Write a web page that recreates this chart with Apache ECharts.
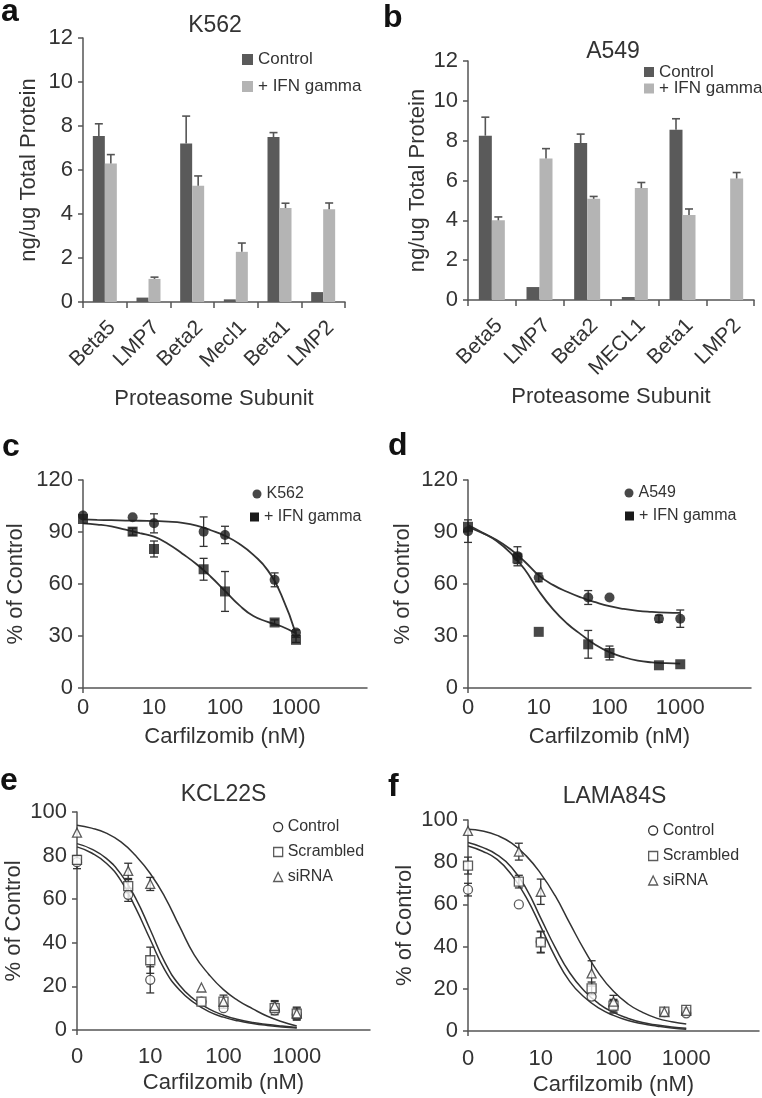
<!DOCTYPE html>
<html><head><meta charset="utf-8">
<script src="https://cdn.jsdelivr.net/npm/echarts@6/dist/echarts.min.js"></script>
<style>html,body{margin:0;padding:0;background:#fff}#c{width:762px;height:1098px}</style>
</head><body><div id="c"></div>
<script>
// ---------- data ----------
const subunitsA = ['Beta5','LMP7','Beta2','Mecl1','Beta1','LMP2'];
const k562Control = [7.55, 0.2, 7.2, 0.12, 7.5, 0.45];
const k562ControlErr = [0.55, 0, 1.25, 0, 0.2, 0];
const k562Ifn = [6.3, 1.05, 5.28, 2.28, 4.27, 4.22];
const k562IfnErr = [0.4, 0.08, 0.45, 0.4, 0.22, 0.28];

const subunitsB = ['Beta5','LMP7','Beta2','MECL1','Beta1','LMP2'];
const a549Control = [8.25, 0.65, 7.88, 0.15, 8.55, 0];
const a549ControlErr = [0.93, 0, 0.45, 0, 0.55, 0];
const a549Ifn = [4.0, 7.1, 5.08, 5.62, 4.27, 6.1];
const a549IfnErr = [0.17, 0.5, 0.12, 0.28, 0.3, 0.3];

const doses = [0, 5, 10, 50, 100, 500, 1000]; // nM
const doseLabels = {1: '0', 10: '10', 100: '100', 1000: '1000'};
// concentrations at which the fitted curves were read (first one = axis origin, 0 nM)
const fitDoses = [1, 1.585, 2.512, 3.981, 6.31, 10, 15.85, 25.12, 39.81, 63.1, 100, 158.5, 251.2, 398.1, 631, 1000];

// panel c
const k562Pct = [99.5, 98.5, 95, 90.2, 88.3, 62.4, 32];
const k562PctErr = [0, 0, 5.5, 8.5, 5, 4, 1.5];
const k562IfnPct = [97.5, 90.2, 80.2, 68.5, 55.7, 37.8, 27.8];
const k562IfnPctErr = [0, 2, 4.6, 6.3, 11.5, 1.5, 1.5];
const k562Fit = [97.3, 97.0, 96.8, 96.6, 96.5, 96.3, 96.0, 95.3, 93.7, 91.0, 87.8, 83.2, 76.8, 68, 53, 31];
const k562IfnFit = [95, 94.3, 93.2, 91.3, 89.3, 87.3, 83.1, 77.5, 71.4, 64.2, 56, 47.8, 41.5, 38.2, 35.5, 31.5];

// panel d
const a549Pct = [90.5, 76, 63.8, 52.2, 52.2, 40, 40];
const a549PctErr = [6.5, 5.5, 2.5, 4, 0, 2, 5];
const a549IfnPct = [93, 74.8, 32.4, 25.2, 20.2, 13.1, 13.7];
const a549IfnPctErr = [0, 3, 0, 8, 4, 0, 0];
const a549Fit = [93, 89.5, 85.5, 80, 73, 65, 59.5, 55.5, 52.2, 49.5, 47.2, 45.6, 44.5, 43.9, 43.5, 43.3];
const a549IfnFit = [94, 89.7, 85, 78, 68.5, 56, 45.5, 37.2, 30.8, 25, 20.7, 17.8, 15.8, 14.8, 14.3, 14.1];

// panel e (KCL22S)
const kclControl = [77, 62, 23, 13, 10, 9, 7];
const kclControlErr = [3, 3, 6, 0, 0, 0, 2];
const kclScrambled = [78, 66, 32, 13, 13, 10, 7.5];
const kclScrambledErr = [2, 3, 6, 0, 3, 3, 3];
const kclSirna = [90.5, 73, 67, 19.5, 13, 11, 7.6];
const kclSirnaErr = [0, 3.5, 3, 0, 0, 2.5, 2.5];
const kclSirnaFit = [93.9, 92.6, 90.3, 86.3, 80, 71.8, 61, 47.5, 34.5, 25.5, 18.5, 13.5, 9.7, 6.3, 3.8, 1.8];
const kclScrambledFit = [85.5, 83, 78.7, 71.5, 60.5, 46, 31, 20.5, 14, 9.7, 6.8, 4.8, 3.4, 2.5, 1.8, 1.2];
const kclControlFit = [84, 81.2, 76.5, 68.5, 56, 41.5, 27.5, 18.3, 12.5, 8.4, 5.9, 4.2, 3, 2.1, 1.4, 0.9];

// panel f (LAMA84S)
const lamaControl = [67, 60, 42.3, 16.3, 11.5, 9, 8.4];
const lamaControlErr = [3, 0, 5, 0, 3, 0, 0];
const lamaScrambled = [78.4, 70.8, 42, 20.2, 12, 9.2, 10];
const lamaScrambledErr = [4, 3, 5, 3, 3, 0, 1];
const lamaSirna = [94.8, 85, 66, 27.3, 13.9, 9, 9.5];
const lamaSirnaErr = [0, 4, 6, 6, 3, 0, 0];
const lamaSirnaFit = [95.6, 94.8, 92.7, 89, 83, 74.6, 64, 51, 38.3, 27.2, 18.8, 12.8, 8.8, 6, 4.4, 3.3];
const lamaScrambledFit = [89.3, 87, 83.5, 77.5, 67.5, 53.5, 39.5, 27.5, 19, 12.9, 8.8, 6, 4, 2.8, 1.9, 1.3];
const lamaControlFit = [87.7, 85.2, 81.3, 74, 63.3, 49.5, 35, 23.4, 16, 10.8, 7.4, 5, 3.4, 2.3, 1.4, 0.8];

// ---------- styling / helpers ----------
const FONT = '"Liberation Sans", Arial, Helvetica, sans-serif';
const AX = '#555', TXT = '#333';
const DARK = '#5a5a5a', LIGHT = '#b4b4b4';
const pos = d => d === 0 ? 1 : d; // 0 nM is drawn at the axis origin

const axLine = {show: true, onZero: false, lineStyle: {color: AX, width: 1.5}};
const tickSt = {color: AX, width: 1.5};

function barX(gi, cats) {
  return {gridIndex: gi, type: 'category', data: cats,
    axisLine: axLine, axisTick: {show: true, length: 6, lineStyle: tickSt},
    axisLabel: {rotate: 45, interval: 0, fontSize: 21, color: TXT, fontFamily: FONT, margin: 15, verticalAlign: 'top'},
    name: 'Proteasome Subunit', nameLocation: 'middle', nameGap: 86,
    nameTextStyle: {fontSize: 22, color: TXT, fontFamily: FONT}};
}
function valY(gi, max, interval, name, gap) {
  return {gridIndex: gi, type: 'value', min: 0, max, interval,
    axisLine: axLine, axisTick: {show: true, length: 5, lineStyle: tickSt},
    splitLine: {show: false},
    axisLabel: {fontSize: 22, color: TXT, fontFamily: FONT, margin: 10},
    name, nameLocation: 'middle', nameGap: gap,
    nameTextStyle: {fontSize: 22, color: TXT, fontFamily: FONT}};
}
function doseX(gi, labelMargin, nameGap) {
  return {gridIndex: gi, type: 'log', logBase: 10, min: 1, max: 10000,
    axisLine: axLine, axisTick: {show: true, length: 5, lineStyle: tickSt, customValues: [1]},
    splitLine: {show: false},
    axisLabel: {fontSize: 22, color: TXT, fontFamily: FONT, margin: labelMargin,
      formatter: v => doseLabels[Math.round(v)] || ''},
    name: 'Carfilzomib (nM)', nameLocation: 'middle', nameGap,
    nameTextStyle: {fontSize: 22, color: TXT, fontFamily: FONT}};
}
function bars(ai, name, vals, color, bw) {
  return {type: 'bar', name, xAxisIndex: ai, yAxisIndex: ai, data: vals,
    barWidth: bw, barGap: '0%', itemStyle: {color}, z: 2, animation: false};
}
function barErr(ai, vals, errs, side, bw) {
  return {type: 'custom', xAxisIndex: ai, yAxisIndex: ai, z: 3, animation: false,
    data: vals.map((v, i) => [i, v, v + errs[i]]).filter((_, i) => errs[i] > 0),
    encode: {x: 0, y: [1, 2]},
    renderItem: (p, api) => {
      const b = api.coord([api.value(0), api.value(1)]);
      const t = api.coord([api.value(0), api.value(2)]);
      const x = b[0] + side * bw / 2;
      const st = {stroke: '#555', lineWidth: 1.6};
      return {type: 'group', children: [
        {type: 'line', shape: {x1: x, y1: b[1], x2: x, y2: t[1]}, style: st},
        {type: 'line', shape: {x1: x - 4, y1: t[1], x2: x + 4, y2: t[1]}, style: st}]};
    }};
}
function ptErr(ai, vals, errs) {
  return {type: 'custom', xAxisIndex: ai, yAxisIndex: ai, z: 3, animation: false,
    data: doses.map((d, i) => [pos(d), vals[i] - errs[i], vals[i] + errs[i]]).filter((_, i) => errs[i] > 0),
    encode: {x: 0, y: [1, 2]},
    renderItem: (p, api) => {
      const a = api.coord([api.value(0), api.value(1)]);
      const b = api.coord([api.value(0), api.value(2)]);
      const st = {stroke: '#333', lineWidth: 1.3};
      return {type: 'group', children: [
        {type: 'line', shape: {x1: a[0], y1: a[1], x2: b[0], y2: b[1]}, style: st},
        {type: 'line', shape: {x1: a[0] - 4, y1: a[1], x2: a[0] + 4, y2: a[1]}, style: st},
        {type: 'line', shape: {x1: b[0] - 4, y1: b[1], x2: b[0] + 4, y2: b[1]}, style: st}]};
    }};
}
function pts(ai, name, vals, symbol, hollow) {
  return {type: 'scatter', name, xAxisIndex: ai, yAxisIndex: ai, z: 4, animation: false,
    symbol, symbolSize: hollow ? 9 : 10,
    itemStyle: hollow ? {color: '#fff', borderColor: '#333', borderWidth: 1.3} : {color: '#1a1a1a'},
    data: doses.map((d, i) => [pos(d), vals[i]])};
}
function fit(ai, vals, w) {
  return {type: 'line', xAxisIndex: ai, yAxisIndex: ai,
    data: fitDoses.map((d, i) => [d, vals[i]]), smooth: 0.5,
    showSymbol: false, symbol: 'none', z: 2, animation: false,
    lineStyle: {color: '#333', width: w}};
}
function leg(name, left, cy, icon, size, style, fontSize) {
  return {left, top: cy - fontSize / 2 - 1, padding: 0, itemGap: 0, selectedMode: false,
    itemWidth: size, itemHeight: size,
    data: [{name, icon, itemStyle: style}],
    textStyle: {fontSize, color: TXT, fontFamily: FONT}};
}
function ttl(text, left, top, size, bold, align) {
  return {text, left, top, padding: 0, textAlign: align || 'left',
    textStyle: {fontSize: size, fontWeight: bold ? 'bold' : 'normal', color: bold ? '#111' : TXT, fontFamily: FONT}};
}

const hollow = {color: '#fff', borderColor: '#333', borderWidth: 1.3};
const solid = {color: '#1a1a1a'};

const option = {
  backgroundColor: '#fff',
  animation: false,
  textStyle: {fontFamily: FONT},
  title: [
    ttl('a', 1, -4, 32, true), ttl('b', 383, 2, 32, true),
    ttl('c', 2, 431, 32, true), ttl('d', 388, 430, 32, true),
    ttl('e', 0, 765, 32, true), ttl('f', 388, 771, 32, true),
    ttl('K562', 215, 14.5, 23, false, 'center'),
    ttl('A549', 613, 40.5, 23, false, 'center'),
    ttl('KCL22S', 223.5, 783.5, 23, false, 'center'),
    ttl('LAMA84S', 614.5, 785.5, 23, false, 'center')
  ],
  legend: [
    leg('Control', 242, 60.5, 'rect', 11, {color: DARK}, 17),
    leg('+ IFN gamma', 242, 87.5, 'rect', 11, {color: LIGHT}, 17),
    leg('Control', 644, 73, 'rect', 10, {color: DARK}, 17),
    leg('+ IFN gamma', 644, 89.5, 'rect', 10, {color: LIGHT}, 17),
    leg('K562', 252.5, 495, 'circle', 9, solid, 16),
    leg('+ IFN gamma', 250, 518, 'rect', 9, solid, 16),
    leg('A549', 624.5, 494, 'circle', 9, solid, 16),
    leg('+ IFN gamma', 625, 517, 'rect', 9, solid, 16),
    leg('Control', 273, 828, 'circle', 9, hollow, 16),
    leg('Scrambled', 273, 853, 'rect', 9, hollow, 16),
    leg('siRNA', 273, 878, 'triangle', 9, hollow, 16),
    leg('Control', 648, 831.5, 'circle', 9, hollow, 16),
    leg('Scrambled', 648, 857, 'rect', 9, hollow, 16),
    leg('siRNA', 648, 881.5, 'triangle', 9, hollow, 16)
  ],
  grid: [
    {left: 83, top: 38, width: 262, height: 264},
    {left: 468, top: 61, width: 286, height: 239},
    {left: 83, top: 480, width: 284, height: 208},
    {left: 468, top: 480, width: 283, height: 208},
    {left: 77, top: 812, width: 293, height: 218},
    {left: 468, top: 820, width: 293, height: 211}
  ],
  xAxis: [
    barX(0, subunitsA), barX(1, subunitsB),
    doseX(2, 9, 38), doseX(3, 9, 38), doseX(4, 16, 42), doseX(5, 17, 43)
  ],
  yAxis: [
    valY(0, 12, 2, 'ng/ug Total Protein', 43),
    valY(1, 12, 2, 'ng/ug Total Protein', 39),
    valY(2, 120, 30, '% of Control', 56),
    valY(3, 120, 30, '% of Control', 54),
    valY(4, 100, 20, '% of Control', 52),
    valY(5, 100, 20, '% of Control', 52)
  ],
  series: [
    bars(0, 'Control', k562Control, DARK, 12), bars(0, '+ IFN gamma', k562Ifn, LIGHT, 12),
    barErr(0, k562Control, k562ControlErr, -1, 12), barErr(0, k562Ifn, k562IfnErr, 1, 12),
    bars(1, 'Control', a549Control, DARK, 13), bars(1, '+ IFN gamma', a549Ifn, LIGHT, 13),
    barErr(1, a549Control, a549ControlErr, -1, 13), barErr(1, a549Ifn, a549IfnErr, 1, 13),

    fit(2, k562Fit, 1.8), fit(2, k562IfnFit, 1.8),
    ptErr(2, k562Pct, k562PctErr), ptErr(2, k562IfnPct, k562IfnPctErr),
    pts(2, 'K562', k562Pct, 'circle', false), pts(2, '+ IFN gamma', k562IfnPct, 'rect', false),

    fit(3, a549Fit, 1.8), fit(3, a549IfnFit, 1.8),
    ptErr(3, a549Pct, a549PctErr), ptErr(3, a549IfnPct, a549IfnPctErr),
    pts(3, 'A549', a549Pct, 'circle', false), pts(3, '+ IFN gamma', a549IfnPct, 'rect', false),

    fit(4, kclSirnaFit, 1.5), fit(4, kclScrambledFit, 1.5), fit(4, kclControlFit, 1.5),
    ptErr(4, kclControl, kclControlErr), ptErr(4, kclScrambled, kclScrambledErr), ptErr(4, kclSirna, kclSirnaErr),
    pts(4, 'Control', kclControl, 'circle', true), pts(4, 'Scrambled', kclScrambled, 'rect', true),
    pts(4, 'siRNA', kclSirna, 'triangle', true),

    fit(5, lamaSirnaFit, 1.5), fit(5, lamaScrambledFit, 1.5), fit(5, lamaControlFit, 1.5),
    ptErr(5, lamaControl, lamaControlErr), ptErr(5, lamaScrambled, lamaScrambledErr), ptErr(5, lamaSirna, lamaSirnaErr),
    pts(5, 'Control', lamaControl, 'circle', true), pts(5, 'Scrambled', lamaScrambled, 'rect', true),
    pts(5, 'siRNA', lamaSirna, 'triangle', true)
  ]
};
const chart = echarts.init(document.getElementById('c'), null, {renderer: 'canvas'});
chart.setOption(option);
</script></body></html>
